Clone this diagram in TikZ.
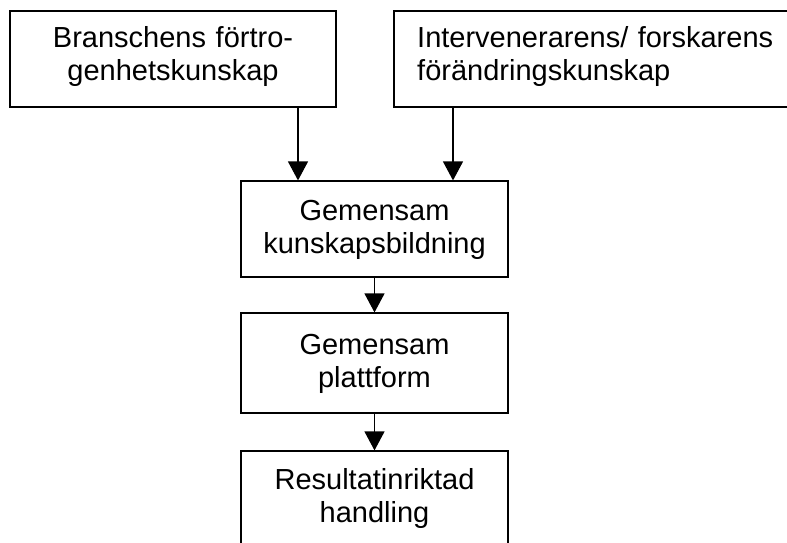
\documentclass[tikz,border=0pt]{standalone}
\usepackage{fontspec}
\setmainfont{Liberation Sans}
\usetikzlibrary{arrows.meta}

\begin{document}
\begin{tikzpicture}[x=1pt,y=1pt,
  box/.style={draw=black, line width=1.2pt, rectangle, inner sep=0pt},
  label/.style={font=\fontsize{29}{33.5}\selectfont, inner sep=0pt, text=black},
  arr/.style={draw=black, line width=1.2pt, -{Triangle[width=20pt,length=19pt]}}]
  \useasboundingbox[fill=white] (0,0) rectangle (787,-542);
  \clip (0,0) rectangle (787,-542);

  % boxes
  \node[box, minimum width=326pt, minimum height=96pt]  (b1) at (173,-59) {};
  \node[box, minimum width=406pt, minimum height=96pt]  (b2) at (597,-59) {};
  \node[box, minimum width=267pt, minimum height=96pt]  (b3) at (374.5,-229) {};
  \node[box, minimum width=267pt, minimum height=100pt] (b4) at (374.5,-363) {};
  \node[box, minimum width=267pt, minimum height=109pt] (b5) at (374.5,-505.5) {};

  % box texts
  \node[label, anchor=base, text width=330pt, align=center] (t1) at (173,-47)
    {Branschens förtro-\\genhetskunskap};
  \node[label, anchor=base west, text width=360pt, align=left] (t2) at (417,-47)
    {\makebox[356pt][l]{Intervenerarens/\hfill forskarens}\\förändringskunskap};
  \node[label, anchor=base, text width=270pt, align=center] (t3) at (374.5,-220)
    {Gemensam\\kunskapsbildning};
  \node[label, anchor=base, text width=270pt, align=center] (t4) at (374.5,-354)
    {Gemensam\\plattform};
  \node[label, anchor=base, text width=270pt, align=center] (t5) at (374.5,-489)
    {Resultatinriktad\\handling};

  % connectors
  \draw[arr] ([xshift=125pt]b1.south) -- ([xshift=125pt]b1.south |- b3.north);
  \draw[arr] ([xshift=-144pt]b2.south) -- ([xshift=-144pt]b2.south |- b3.north);
  \draw[arr] (b3.south) -- (b4.north);
  \draw[arr] (b4.south) -- (b5.north);
\end{tikzpicture}
\end{document}
